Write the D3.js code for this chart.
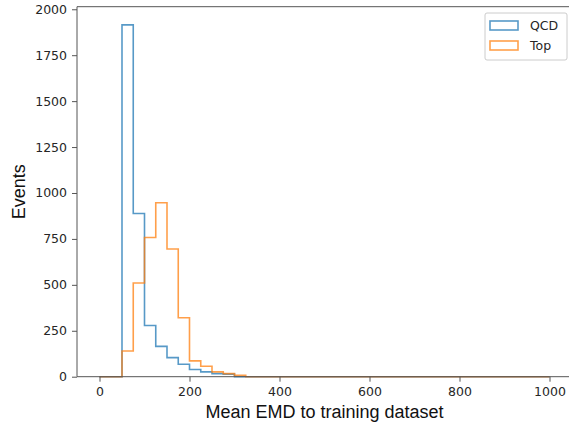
<!DOCTYPE html>
<html>
<head>
<meta charset="utf-8">
<script src="https://cdn.jsdelivr.net/npm/d3@7"></script>
<style>
  body { margin: 0; background: #fff; }
  svg { display: block; }
</style>
</head>
<body>
<div id="chart"></div>
<script>
// Datos del histograma (bins de 25, de 0 a 1000)
const binEdges = d3.range(0, 1001, 25);
const qcdCounts = [0, 0, 1915, 888, 279, 165, 104, 68, 39, 26, 17, 14,
  0, 0, 0, 0, 0, 0, 0, 0, 0, 0, 0, 0, 0, 0, 0, 0, 0, 0,
  0, 0, 0, 0, 0, 0, 0, 0, 0, 0];
const topCounts = [0, 0, 140, 510, 758, 947, 695, 321, 86, 57, 26, 17,
  8, 0, 0, 0, 0, 0, 0, 0, 0, 0, 0, 0, 0, 0, 0, 0, 0, 0,
  0, 0, 0, 0, 0, 0, 0, 0, 0, 0];
const xTicks = [0, 200, 400, 600, 800, 1000];
const yTicks = [0, 250, 500, 750, 1000, 1250, 1500, 1750, 2000];
const seriesNames = ['QCD', 'Top'];
const seriesColors = ['#1f77b4', '#ff7f0e'];

const width = 569, height = 427;
const margin = { left: 77, right: -3, top: 6.7, bottom: 50.3 };

const svg = d3.select('#chart').append('svg')
  .attr('width', width)
  .attr('height', height);

const x = d3.scaleLinear()
  .domain([-50, 1050])
  .range([margin.left, width - margin.right]);

const y = d3.scaleLinear()
  .domain([0, 2014])
  .range([height - margin.bottom, margin.top]);

const fontTicks = 'DejaVu Sans, sans-serif';
const spineColor = '#555';

// Histogramas tipo "step"
const stepPath = (counts) => {
  let p = `M${x(binEdges[0])},${y(0)}`;
  counts.forEach((c, i) => {
    p += `V${y(c)}H${x(binEdges[i + 1])}`;
  });
  p += `V${y(0)}`;
  return p;
};

[qcdCounts, topCounts].forEach((counts, i) => {
  svg.append('path')
    .attr('d', stepPath(counts))
    .attr('fill', 'none')
    .attr('stroke', seriesColors[i])
    .attr('stroke-opacity', 0.75)
    .attr('stroke-width', 1.6);
});

// Ejes
const xAxis = svg.append('g')
  .attr('transform', `translate(0,${y(0)})`)
  .call(d3.axisBottom(x).tickValues(xTicks).tickSize(5).tickPadding(5).tickFormat(d3.format('d')));

const yAxis = svg.append('g')
  .attr('transform', `translate(${margin.left},0)`)
  .call(d3.axisLeft(y).tickValues(yTicks).tickSize(5).tickPadding(5).tickFormat(d3.format('d')));

[xAxis, yAxis].forEach(g => {
  g.select('.domain').remove();
  g.selectAll('.tick line').attr('stroke', spineColor).attr('stroke-width', 1);
  g.selectAll('.tick text')
    .attr('fill', '#262626')
    .style('font-family', fontTicks)
    .style('font-size', '12.5px');
});

// Marco (spines): izquierda, abajo, arriba; la derecha queda fuera de la imagen
const xr = x.range()[1];
[[margin.left, margin.top, margin.left, y(0)],
 [margin.left, y(0), xr, y(0)],
 [margin.left, margin.top, xr, margin.top]].forEach(([x1, y1, x2, y2]) => {
  svg.append('line')
    .attr('x1', x1).attr('y1', y1).attr('x2', x2).attr('y2', y2)
    .attr('stroke', spineColor)
    .attr('stroke-width', 1);
});

// Etiquetas de ejes
svg.append('text')
  .attr('x', (margin.left + xr) / 2)
  .attr('y', 418)
  .attr('text-anchor', 'middle')
  .style('font-family', 'Liberation Sans, Arial, sans-serif')
  .style('font-size', '18px')
  .attr('fill', '#111')
  .text('Mean EMD to training dataset');

svg.append('text')
  .attr('transform', `translate(25,${(margin.top + y(0)) / 2}) rotate(-90)`)
  .attr('text-anchor', 'middle')
  .style('font-family', 'Liberation Sans, Arial, sans-serif')
  .style('font-size', '18px')
  .attr('fill', '#111')
  .text('Events');

// Leyenda
const legend = svg.append('g').attr('transform', 'translate(485,13)');
legend.append('rect')
  .attr('width', 82).attr('height', 47)
  .attr('rx', 2)
  .attr('fill', '#fff').attr('fill-opacity', 0.8)
  .attr('stroke', '#ccc');

seriesNames.forEach((name, i) => {
  const row = legend.append('g').attr('transform', `translate(5,${8 + i * 20})`);
  row.append('rect')
    .attr('width', 28).attr('height', 9)
    .attr('fill', 'none')
    .attr('stroke', seriesColors[i])
    .attr('stroke-opacity', 0.75)
    .attr('stroke-width', 1.6);
  row.append('text')
    .attr('x', 40).attr('y', 9)
    .style('font-family', fontTicks)
    .style('font-size', '12.5px')
    .attr('fill', '#262626')
    .text(name);
});
</script>
</body>
</html>
